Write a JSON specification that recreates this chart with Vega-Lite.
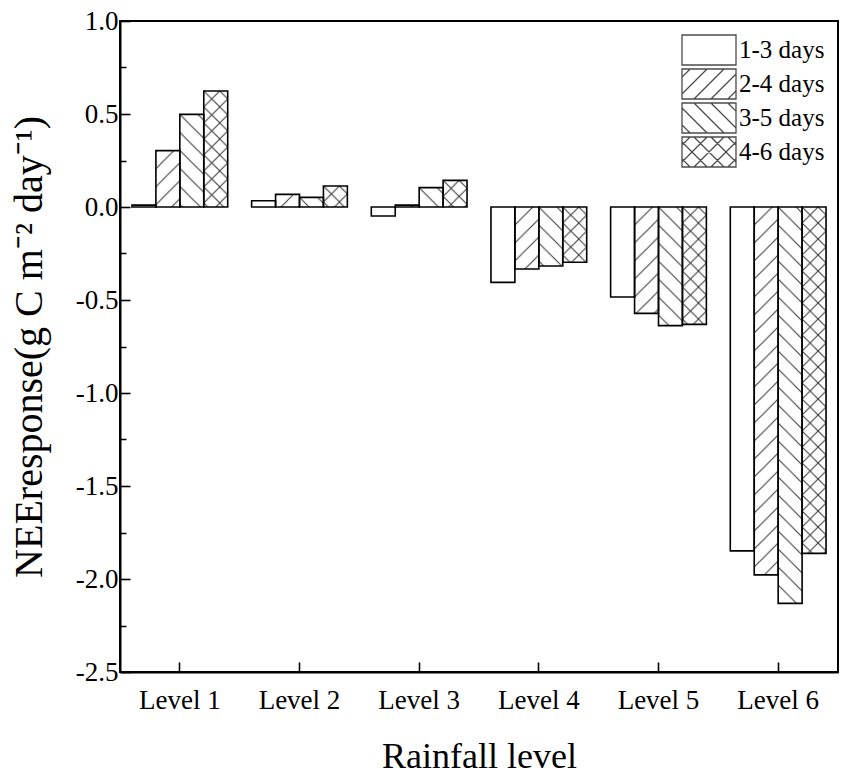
{
  "$schema": "https://vega.github.io/schema/vega-lite/v6.json",
  "description": "NEE response by rainfall level and days after rainfall",
  "width": 718,
  "height": 651,
  "autosize": {"type": "none"},
  "padding": {"left": 120, "top": 21, "right": 13, "bottom": 107},
  "background": "white",
  "config": {
    "view": {"stroke": "black", "strokeWidth": 2},
    "font": "Liberation Serif"
  },
  "data": {
    "values": [
      {"level": "Level 1", "series": "1-3 days", "value": 0.01},
      {"level": "Level 1", "series": "2-4 days", "value": 0.303},
      {"level": "Level 1", "series": "3-5 days", "value": 0.498},
      {"level": "Level 1", "series": "4-6 days", "value": 0.624},
      {"level": "Level 2", "series": "1-3 days", "value": 0.034},
      {"level": "Level 2", "series": "2-4 days", "value": 0.068},
      {"level": "Level 2", "series": "3-5 days", "value": 0.052},
      {"level": "Level 2", "series": "4-6 days", "value": 0.113},
      {"level": "Level 3", "series": "1-3 days", "value": -0.048},
      {"level": "Level 3", "series": "2-4 days", "value": 0.01},
      {"level": "Level 3", "series": "3-5 days", "value": 0.104},
      {"level": "Level 3", "series": "4-6 days", "value": 0.143},
      {"level": "Level 4", "series": "1-3 days", "value": -0.405},
      {"level": "Level 4", "series": "2-4 days", "value": -0.333},
      {"level": "Level 4", "series": "3-5 days", "value": -0.317},
      {"level": "Level 4", "series": "4-6 days", "value": -0.297},
      {"level": "Level 5", "series": "1-3 days", "value": -0.484},
      {"level": "Level 5", "series": "2-4 days", "value": -0.572},
      {"level": "Level 5", "series": "3-5 days", "value": -0.638},
      {"level": "Level 5", "series": "4-6 days", "value": -0.631},
      {"level": "Level 6", "series": "1-3 days", "value": -1.849},
      {"level": "Level 6", "series": "2-4 days", "value": -1.978},
      {"level": "Level 6", "series": "3-5 days", "value": -2.131},
      {"level": "Level 6", "series": "4-6 days", "value": -1.862}
    ]
  },
  "encoding": {
    "x": {"field": "level", "type": "nominal",
          "scale": {"paddingInner": 0.2, "paddingOuter": 0.1},
          "axis": {"title": "Rainfall level", "labelAngle": 0, "tickSize": -10, "tickWidth": 1.6,
                   "tickColor": "black", "domainColor": "black", "domainWidth": 2,
                   "labelFont": "Liberation Serif", "labelFontSize": 27, "labelColor": "black", "labelPadding": 25,
                   "titleFont": "Liberation Serif", "titleFontSize": 36, "titleFontWeight": "normal",
                   "titleColor": "black", "titlePadding": 26}},
    "xOffset": {"field": "series", "type": "nominal",
                "scale": {"domain": ["1-3 days", "2-4 days", "3-5 days", "4-6 days"], "paddingInner": 0, "paddingOuter": 0}}
  },
  "resolve": {"axis": {"y": "independent"}},
  "layer": [
    {
      "transform": [{"filter": "datum.series === '2-4 days'"}],
      "mark": {"type": "image", "aspect": false},
      "encoding": {
        "y": {"field": "value", "type": "quantitative",
              "scale": {"domain": [-2.5, 1.0], "nice": false},
              "axis": {"orient": "left", "values": [-2.25, -1.75, -1.25, -0.75, -0.25, 0.25, 0.75],
                       "labels": false, "domain": false, "grid": false, "title": null,
                       "tickSize": -6, "tickWidth": 1.5, "tickColor": "black"}},
        "y2": {"datum": 0},
        "url": {"value": "data:image/svg+xml;charset=utf-8,<svg xmlns='http://www.w3.org/2000/svg' width='100%' height='100%'><defs><pattern id='p' width='18' height='18' patternUnits='userSpaceOnUse'><path d='M-2,2L2,-2M0,18L18,0M16,20L20,16' stroke='%23333' stroke-width='1' fill='none'/></pattern></defs><rect width='100%' height='100%' fill='url(%23p)'/></svg>"}
      }
    },
    {
      "transform": [{"filter": "datum.series === '3-5 days'"}],
      "mark": {"type": "image", "aspect": false},
      "encoding": {
        "y": {"field": "value", "type": "quantitative", "axis": null},
        "y2": {"datum": 0},
        "url": {"value": "data:image/svg+xml;charset=utf-8,<svg xmlns='http://www.w3.org/2000/svg' width='100%' height='100%'><defs><pattern id='p' width='18' height='18' patternUnits='userSpaceOnUse'><path d='M0,0L18,18M-2,16L2,20M16,-2L20,2' stroke='%23333' stroke-width='1' fill='none'/></pattern></defs><rect width='100%' height='100%' fill='url(%23p)'/></svg>"}
      }
    },
    {
      "transform": [{"filter": "datum.series === '4-6 days'"}],
      "mark": {"type": "image", "aspect": false},
      "encoding": {
        "y": {"field": "value", "type": "quantitative", "axis": null},
        "y2": {"datum": 0},
        "url": {"value": "data:image/svg+xml;charset=utf-8,<svg xmlns='http://www.w3.org/2000/svg' width='100%' height='100%'><defs><pattern id='p' width='16' height='16' patternUnits='userSpaceOnUse'><path d='M0,16L16,0M-2,2L2,-2M14,18L18,14M0,0L16,16M-2,14L2,18M14,-2L18,2' stroke='%23333' stroke-width='1' fill='none'/></pattern></defs><rect width='100%' height='100%' fill='url(%23p)'/></svg>"}
      }
    },
    {
      "mark": {"type": "bar", "fill": "transparent", "stroke": "black", "strokeWidth": 1.6},
      "encoding": {
        "y": {"field": "value", "type": "quantitative", "stack": null,
              "axis": {"orient": "left", "values": [-2.5, -2, -1.5, -1, -0.5, 0, 0.5, 1],
                       "labelExpr": "replace(format(datum.value, '.1f'), '\u2212', '-')",
                       "grid": false, "tickSize": -10, "tickWidth": 1.6, "tickColor": "black",
                       "domainColor": "black", "domainWidth": 2,
                       "labelFont": "Liberation Serif", "labelFontSize": 27, "labelColor": "black", "labelPadding": 12,
                       "title": "NEEresponse(g C m\u207b\u00b2 day\u207b\u00b9)",
                       "titleFont": "Liberation Serif", "titleFontSize": 40, "titleFontWeight": "normal",
                       "titleColor": "black", "titlePadding": 26}}
      }
    },
    {
      "transform": [{"filter": "datum.series === 'none'"}],
      "mark": {"type": "point", "filled": false, "color": "black", "strokeWidth": 1.3, "size": 900},
      "encoding": {
        "y": {"field": "value", "type": "quantitative", "axis": null},
        "shape": {"field": "series", "type": "nominal",
                  "scale": {"domain": ["1-3 days", "2-4 days", "3-5 days", "4-6 days"],
                            "range": [
                              "M-1.8,-1H1.8V1H-1.8Z",
                              "M-1.8,-1H1.8V1H-1.8ZM-1.8,-0.46L-1.26,-1M-1.8,0.67L-0.13,-1M-1,1L1,-1M0.13,1L1.8,-0.67M1.26,1L1.8,0.46",
                              "M-1.8,-1H1.8V1H-1.8ZM-1.8,0.46L-1.26,1M-1.8,-0.67L-0.13,1M-1,-1L1,1M0.13,-1L1.8,0.67M1.26,-1L1.8,-0.46",
                              "M-1.8,-1H1.8V1H-1.8ZM-1.8,-0.46L-1.26,-1M-1.8,0.67L-0.13,-1M-1,1L1,-1M0.13,1L1.8,-0.67M1.26,1L1.8,0.46M-1.8,0.46L-1.26,1M-1.8,-0.67L-0.13,1M-1,-1L1,1M0.13,-1L1.8,0.67M1.26,-1L1.8,-0.46"
                            ]},
                  "legend": {"title": null, "orient": "top-right", "offset": 13, "padding": 0,
                             "symbolSize": 900, "symbolStrokeWidth": 1.3, "symbolStrokeColor": "black",
                             "symbolFillColor": "white", "labelOffset": 14, "rowPadding": -2,
                             "labelFont": "Liberation Serif", "labelFontSize": 25, "labelColor": "black"}}
      }
    }
  ]
}
